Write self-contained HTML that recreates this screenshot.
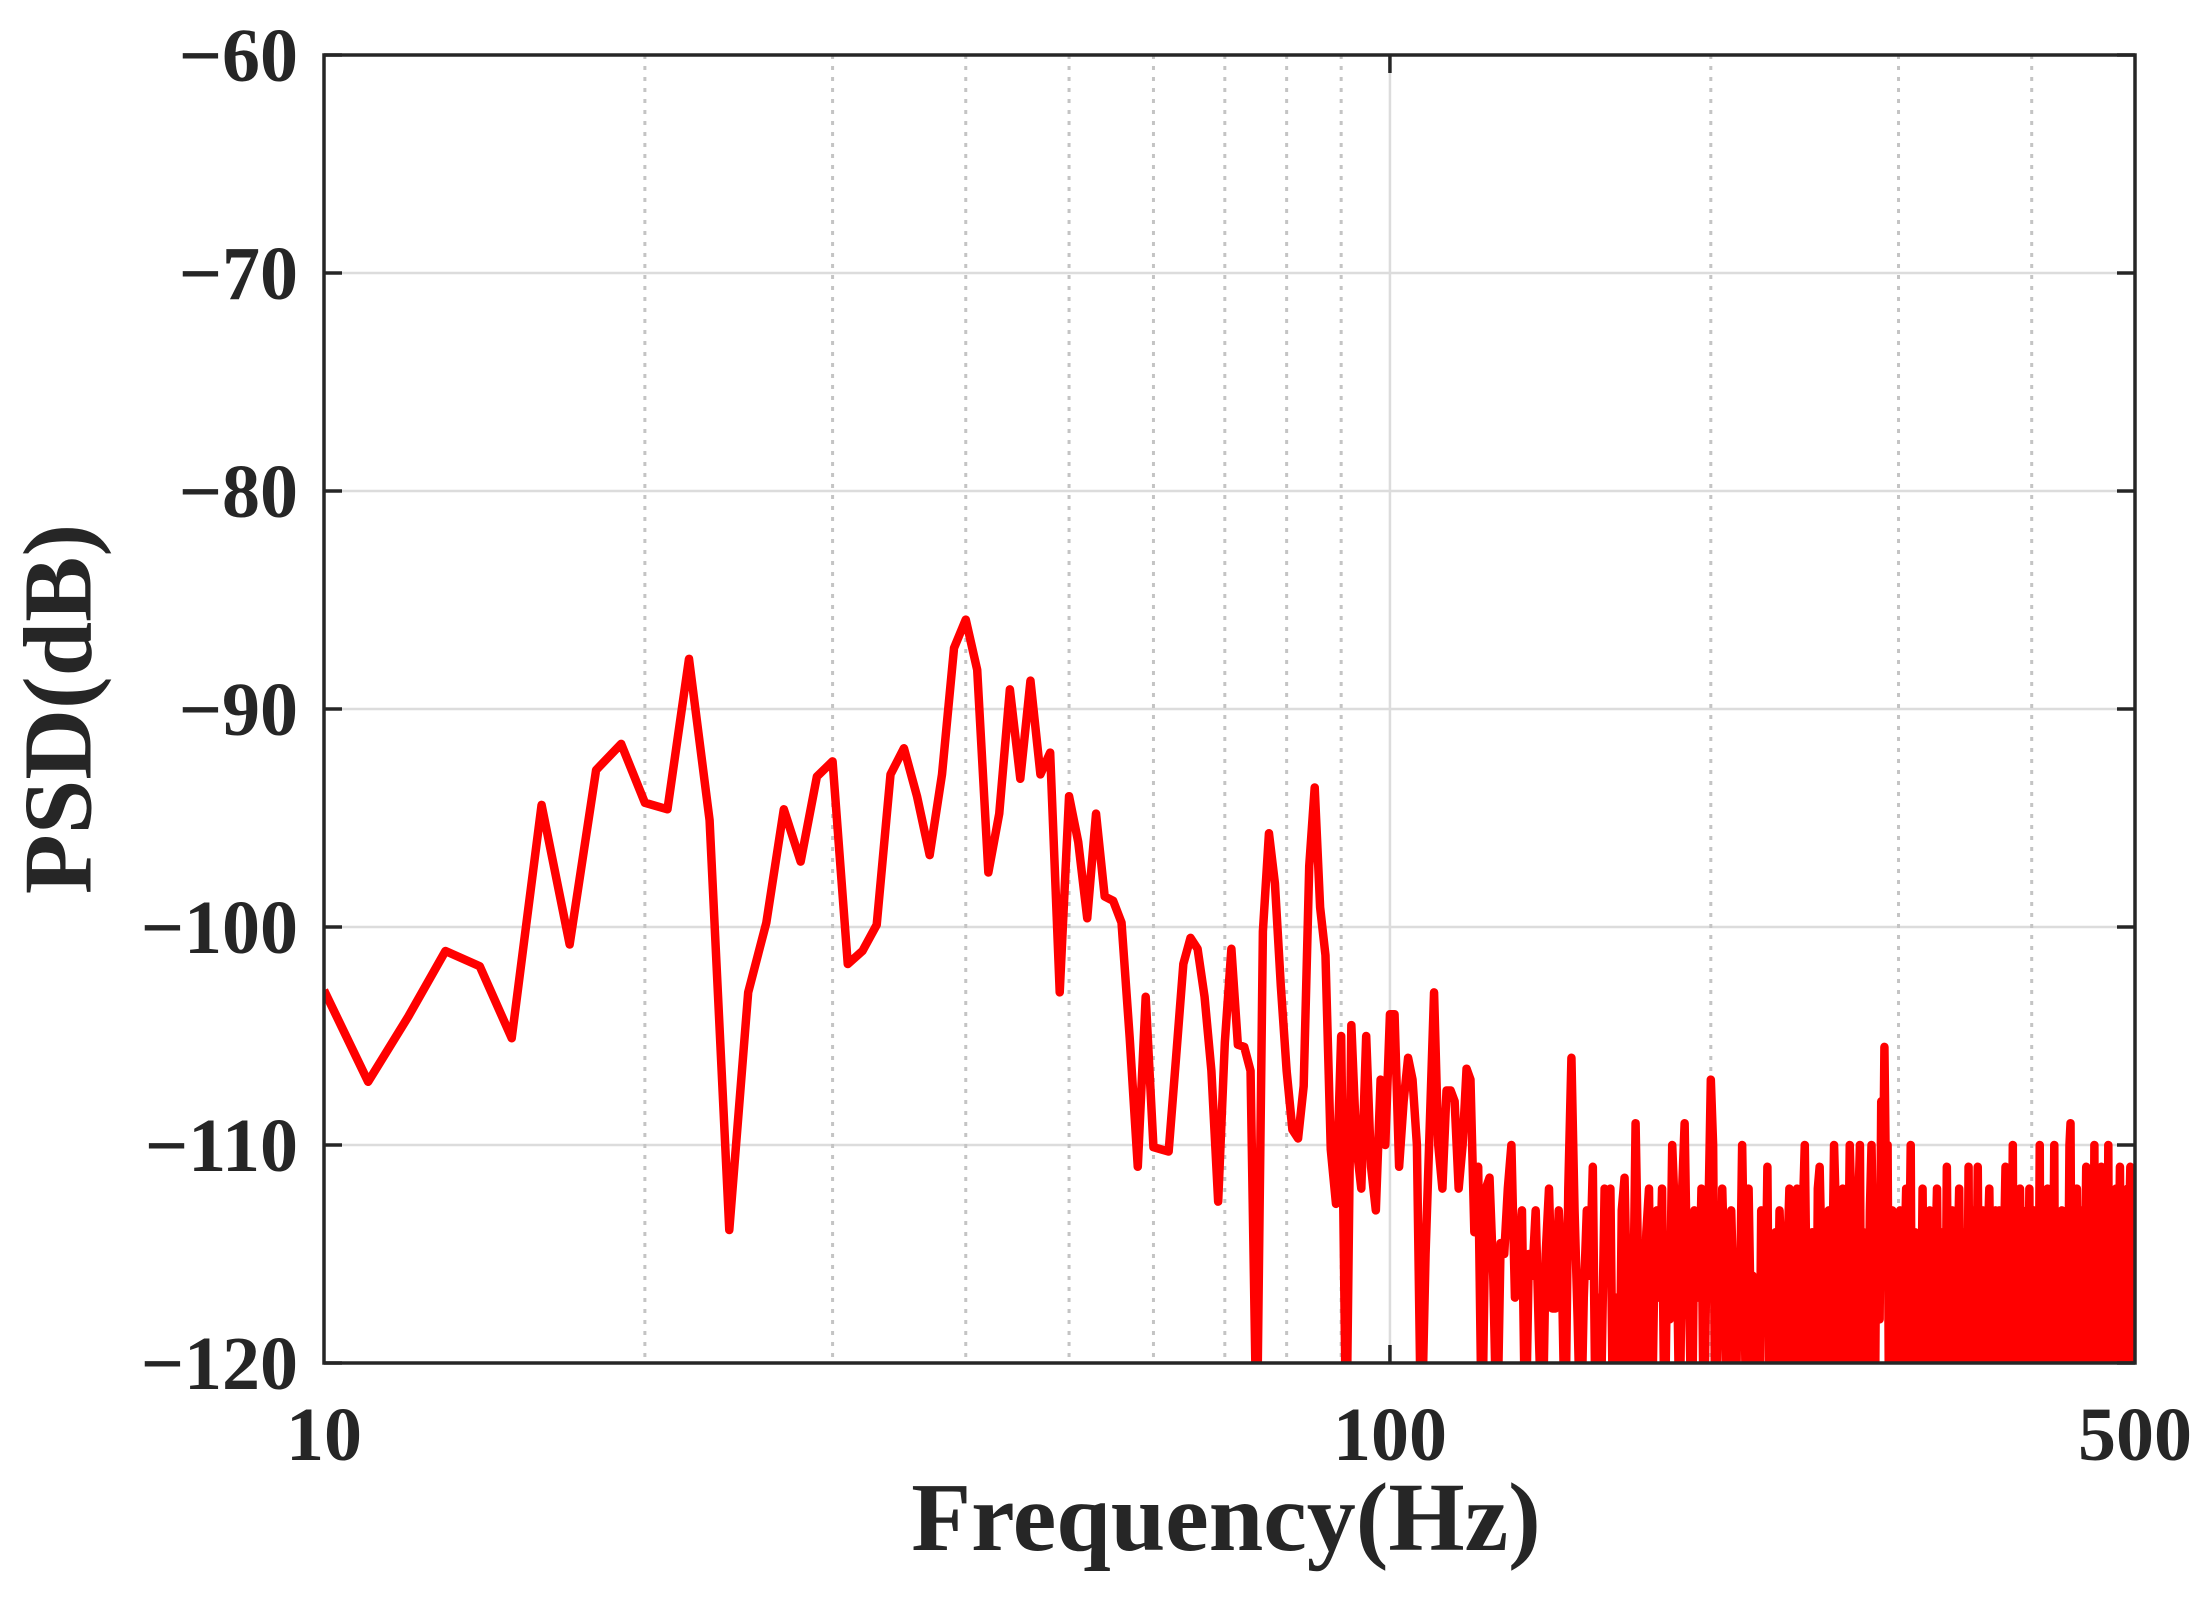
<!DOCTYPE html>
<html><head><meta charset="utf-8"><style>
html,body{margin:0;padding:0;background:#fff;}
svg{display:block;}
text{font-family:"Liberation Serif",serif;font-weight:bold;fill:#262626;}
</style></head><body>
<svg id="chart" width="2208" height="1602" viewBox="0 0 2208 1602" xmlns="http://www.w3.org/2000/svg">
<defs><clipPath id="clip"><rect x="324" y="55" width="1811" height="1308"/></clipPath></defs>
<rect x="0" y="0" width="2208" height="1602" fill="#fff"/>
<g id="grid"></g>
<g id="series" clip-path="url(#clip)"></g>
<rect x="324" y="55" width="1811" height="1308" fill="none" stroke="#262626" stroke-width="3.5"/>
<g id="ticks"></g>
<text x="68" y="709" font-size="98" text-anchor="middle" transform="rotate(-90 68 709)" dominant-baseline="middle">PSD(dB)</text>
<text x="1226" y="1550" font-size="98" text-anchor="middle">Frequency(Hz)</text>
</svg>
<script>
const xTickValues = [10, 100, 500];
const xTickLabels = ["10", "100", "500"];
const xMinorGrid = [20,30,40,50,60,70,80,90,200,300,400];
const yTickValues = [-60,-70,-80,-90,-100,-110,-120];
const yTickLabels = ["\u221260","\u221270","\u221280","\u221290","\u2212100","\u2212110","\u2212120"];
const startFreq = 10;
const psdValues = [
-102.9,-107.1,-104.1,-101.1,-101.8,-105.1,-94.4,-100.8,-92.8,-91.6,
-94.3,-94.6,-87.7,-95.1,-113.9,-103.0,-99.8,-94.6,-97,-93.1,
-92.4,-101.7,-101.1,-99.9,-93,-91.8,-94,-96.7,-93,-87.2,
-85.9,-88.2,-97.5,-94.8,-89.1,-93.2,-88.7,-93,-92,-103,
-94,-96.1,-99.6,-94.8,-98.6,-98.8,-99.8,-105.1,-111,-103.2,
-110.1,-110.2,-110.3,-106,-101.7,-100.5,-101,-103.2,-106.6,-112.6,
-105.3,-101,-105.4,-105.5,-106.6,-124,-100.2,-95.7,-98,-102.7,
-106.6,-109.3,-109.7,-107.3,-97.2,-93.6,-99.1,-101.3,-110.2,-112.7,
-105,
-124,-104.5,-110,-112,-105,-111,-113,-107,-110,-104,
-104,-111,-108,-106,-107,-110,-124,-115,-109,-103,
-110,-112,-107.5,-107.5,-108,-112,-110,-106.5,-107,-114,
-111,-124,-112,-111.5,-116,-124,-114.5,-115,-112,-110,
-117,-115,-113,-124,-115,-116,-113,-119,-124,-115,
-112,-117.5,-117.5,-113,-116,-124,-112,-106,-113,-118,
-124,-117,-113,-116,-111,-124,-117,-120,-112,-116,
-112,-124,-117,-124,-113,-111.5,-118,-124,-119,-109,
-116,-124,-118,-114,-112,-124,-116,-113,-117,-112,
-124,-115,-118,-110,-113,-116,-124,-112,-109,-116,
-118,-124,-113,-115,-117,-112,-124,-116,-113,-107,
-110,-124,-117,-119,-112,-116,-124,-118,-113,-117,
-124,-115,-117,-110,-116,-124,-112,-118,-116,-120,
-117,-124,-113,-116,-118,-111,-124,-115,-117,-114,
-120,-113,-116,-124,-118,-115,-112,-124,-117,-116,
-112,-115,-124,-113,-110,-117,-124,-116,-114,-118,
-124,-112,-111,-115,-124,-117,-114,-113,-124,-116,
-110,-113,-124,-118,-115,-112,-124,-116,-117,-110,
-113,-124,-116,-118,-113,-110,-124,-114,-117,-115,
-120,-113,-110,-115,-124,-112,-114,-118,-108,-113,
-105.5,-112,-110,-124,-116,-113,-118,-120,-124,-115,
-113,-117,-124,-115,-112,-118,-116,-110,-124,-118,
-114,-117,-124,-116,-119,-112,-120,-115,-124,-117,
-113,-116,-118,-124,-115,-112,-119,-117,-124,-114,
-117,-120,-111,-118,-124,-116,-113,-120,-117,-124,
-115,-112,-118,-124,-116,-114,-117,-120,-111,-124,
-116,-118,-113,-124,-117,-111,-119,-124,-115,-113,
-118,-117,-124,-114,-112,-117,-124,-116,-118,-113,
-124,-115,-113,-119,-117,-124,-114,-111,-116,-124,
-118,-114,-117,-110,-124,-113,-116,-118,-124,-112,
-116,-119,-114,-124,-117,-113,-118,-112,-124,-115,
-117,-113,-124,-114,-116,-119,-110,-124,-116,-113,
-118,-124,-115,-112,-119,-117,-124,-113,-116,-110,
-124,-116,-118,-114,-117,-124,-113,-119,-116,-120,
-124,-113,-116,-110,-109,-120,-115,-124,-117,-114,
-112,-118,-124,-116,-113,-119,-117,-124,-115,-111,
-116,-118,-124,-114,-117,-113,-120,-110,-124,-116,
-118,-113,-124,-117,-111,-119,-115,-124,-116,-113,
-118,-110,-124,-116,-113,-119,-117,-124,-114,-112,
-117,-124,-115,-111,-118,-124,-113,-116,-119,-124,
-117,-112,-124,-113,-111,-118,-124,-112,-116,-124
];
const NS = "http://www.w3.org/2000/svg";
const X0 = 324, X1 = 2135, Y0 = 55, Y1 = 1363;
function xScale(f){ return X0 + (Math.log10(f) - 1) / Math.log10(50) * (X1 - X0); }
function yScale(v){ return Y1 - (v + 120) / 60 * (Y1 - Y0); }
function mk(tag, attrs, parent){ const e = document.createElementNS(NS, tag); for (const k in attrs) e.setAttribute(k, attrs[k]); parent.appendChild(e); return e; }
const grid = document.getElementById('grid');
const ticks = document.getElementById('ticks');
yTickValues.forEach((v, i) => {
  const y = yScale(v);
  if (v !== -60 && v !== -120) {
    const g = mk('line', {x1: X0, x2: X1, y1: y, y2: y, stroke: '#dcdcdc', 'stroke-width': 2.5}, grid);
    
    
  }
  const t1 = mk('line', {x1: X0, x2: X0 + 18, y1: y, y2: y, stroke: '#262626', 'stroke-width': 3.5}, ticks);
  
  
  const t2 = mk('line', {x1: X1 - 18, x2: X1, y1: y, y2: y, stroke: '#262626', 'stroke-width': 3.5}, ticks);
  
  
  const lb = mk('text', {x: 298, y: y + 26, 'font-size': 76, 'text-anchor': 'end'}, ticks);
  lb.textContent = yTickLabels[i];
  
  
});
xMinorGrid.forEach(f => {
  const x = xScale(f);
  const g = mk('line', {x1: x, x2: x, y1: Y0, y2: Y1, stroke: '#c4c4c4', 'stroke-width': 3, 'stroke-dasharray': '4 7'}, grid);
  
  
});
xTickValues.forEach((f, i) => {
  const x = xScale(f);
  if (f === 100) {
    const g = mk('line', {x1: x, x2: x, y1: Y0, y2: Y1, stroke: '#dcdcdc', 'stroke-width': 2.5}, grid);
    
    
    const t = mk('line', {x1: x, x2: x, y1: Y1 - 18, y2: Y1, stroke: '#262626', 'stroke-width': 3.5}, ticks);
    
    
    const t2 = mk('line', {x1: x, x2: x, y1: Y0, y2: Y0 + 18, stroke: '#262626', 'stroke-width': 3.5}, ticks);
    
    
  }
  const lb = mk('text', {x: x, y: 1460, 'font-size': 76, 'text-anchor': 'middle'}, ticks);
  lb.textContent = xTickLabels[i];
  
  
});
let d = '';
psdValues.forEach((v, i) => {
  const f = startFreq + i;
  d += (i === 0 ? 'M' : 'L') + xScale(f).toFixed(2) + ',' + yScale(v).toFixed(2);
});
const line = mk('path', {d: d, fill: 'none', stroke: '#ff0000', 'stroke-width': 8.5, 'stroke-linejoin': 'round'}, document.getElementById('series'));


</script>
</body></html>
